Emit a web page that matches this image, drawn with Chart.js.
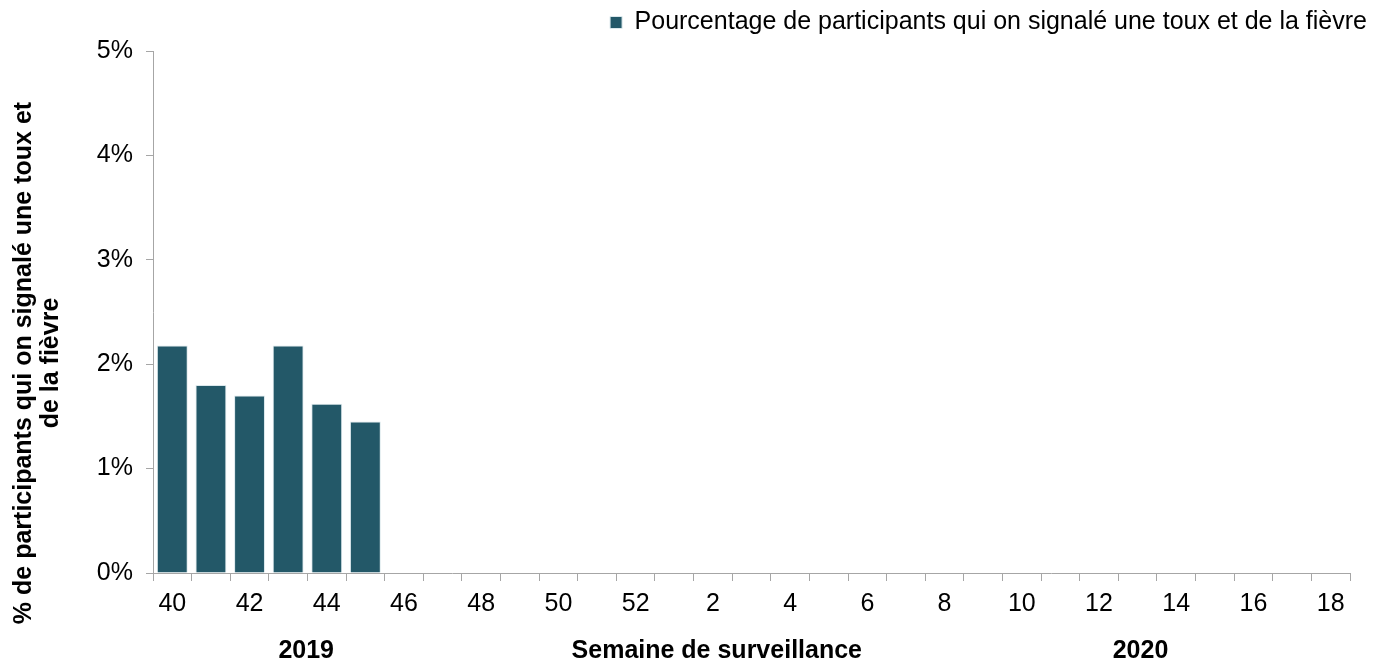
<!DOCTYPE html>
<html lang="fr">
<head>
<meta charset="utf-8">
<title>Toux et fièvre</title>
<script src="https://cdn.jsdelivr.net/npm/chart.js@4/dist/chart.umd.min.js"></script>
<style>
    html, body { margin: 0; padding: 0; background: #fff; }
    #wrap { width: 1385px; height: 665px; position: relative; }
</style>
</head>
<body>
<div id="wrap"><canvas id="chart"></canvas></div>
<script>
/* Surveillance weeks 40 (2019) to 18 (2020) */
const weeks = ["40", "41", "42", "43", "44", "45", "46", "47", "48", "49", "50", "51", "52",
    "1", "2", "3", "4", "5", "6", "7", "8", "9", "10", "11", "12", "13", "14", "15", "16", "17", "18"];
const pctCoughFever = [2.18, 1.80, 1.70, 2.18, 1.62, 1.45];
const yTicks = [0, 1, 2, 3, 4, 5];

const seriesLabel = "Pourcentage de participants qui on signalé une toux et de la fièvre";
const yTitle = ["% de participants qui on signalé une toux et", "de la fièvre"];
const xTitle = "Semaine de surveillance";
const yearLabels = ["2019", "2020"];

const FONT = "'Liberation Sans', Arial, sans-serif";
const AXIS = "#a6a6a6";
const BAR = "#235868";

/* ---------- extra text: y title, x title, years ---------- */
const extraText = {
    id: "extraText",
    afterDraw(chart) {
        const ctx = chart.ctx;
        const a = chart.chartArea;
        ctx.save();
        ctx.fillStyle = "#000";
        ctx.font = "bold 25px " + FONT;
        ctx.textAlign = "center";
        ctx.textBaseline = "middle";
        const w = a.right - a.left;
        ctx.fillText(yearLabels[0], a.left + w * 0.128, 651);
        ctx.fillText(xTitle, a.left + w * 0.471, 651);
        ctx.fillText(yearLabels[1], a.left + w * 0.825, 651);

        ctx.textBaseline = "alphabetic";
        ctx.translate(0, 363);
        ctx.rotate(-Math.PI / 2);
        ctx.fillText(yTitle[0], 0, 31);
        ctx.fillText(yTitle[1], 0, 58);
        ctx.restore();
    }
};

new Chart(document.getElementById("chart"), {
    type: "bar",
    data: {
        labels: weeks,
        datasets: [{
            label: seriesLabel,
            data: pctCoughFever,
            backgroundColor: BAR,
            borderColor: "#dbe8ec",
            borderWidth: 1,
            barPercentage: 0.8,
            categoryPercentage: 1
        }]
    },
    options: {
        responsive: true,
        maintainAspectRatio: false,
        animation: false,
        layout: { padding: { top: 0, right: 8, bottom: 0, left: 0 } },
        plugins: {
            legend: {
                position: "top",
                align: "end",
                labels: {
                    color: "#000",
                    boxWidth: 12,
                    boxHeight: 12,
                    padding: 10,
                    font: { family: FONT, size: 25 }
                }
            },
            tooltip: { enabled: false }
        },
        scales: {
            x: {
                grid: { drawOnChartArea: false, color: AXIS, tickLength: 8, offset: true },
                border: { color: AXIS, width: 1 },
                ticks: {
                    color: "#000",
                    autoSkip: false,
                    maxRotation: 0,
                    padding: 8,
                    font: { family: FONT, size: 25 },
                    callback: (v, i) => i % 2 === 0 ? weeks[i] : ""
                },
                afterFit(s) { s.height = 92; }
            },
            xTop: {
                position: "top",
                display: true,
                grid: { display: false },
                border: { display: false },
                ticks: { display: false },
                afterFit(s) { s.height = 6; }
            },
            y: {
                min: 0,
                max: 5,
                grid: { drawOnChartArea: false, color: AXIS, tickLength: 7 },
                border: { color: AXIS, width: 1 },
                afterBuildTicks(s) { s.ticks = yTicks.map(v => ({ value: v })); },
                ticks: {
                    color: "#000",
                    padding: 13,
                    font: { family: FONT, size: 25 },
                    callback: v => v + "%"
                },
                afterFit(s) { s.width = 153; }
            },
            yR: {
                position: "right",
                display: true,
                grid: { display: false },
                border: { display: false },
                ticks: { display: false },
                afterFit(s) { s.width = 27; }
            }
        }
    },
    plugins: [extraText]
});
</script>
</body>
</html>
